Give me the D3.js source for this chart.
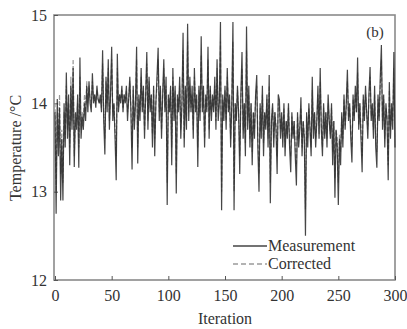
<!DOCTYPE html>
<html>
<head>
<meta charset="utf-8">
<script src="https://cdn.jsdelivr.net/npm/d3@7"></script>
<style>
  body { margin: 0; background: #fff; }
  svg text { font-family: "Liberation Serif", "DejaVu Serif", serif; fill: #333; }
</style>
</head>
<body>
<svg id="chart" width="407" height="329"></svg>
<script>
// values, one per iteration (0..300)
const measurement = [
  13.9, 12.75, 14.05, 13.4, 13.95, 12.9, 13.6, 12.9, 14.0, 13.5,
  14.35, 13.6, 14.1, 13.3, 14.2, 13.7, 14.4, 13.28, 13.9, 13.7,
  14.1, 13.27, 14.52, 13.6, 13.85, 13.7, 14.0, 13.8, 14.2, 13.9,
  14.25, 14.0, 13.9, 14.34, 14.0, 14.1, 13.95, 14.2, 14.05, 14.0,
  14.1, 13.9, 14.6, 13.8, 13.42, 14.3, 13.9, 14.5, 13.7, 14.1,
  14.64, 13.8, 14.0, 13.6, 13.13, 14.56, 13.9, 14.1, 14.0, 14.2,
  13.9, 14.1, 14.0, 14.2, 13.8, 14.05, 14.3, 13.9, 13.25, 14.2,
  13.7, 14.0, 14.64, 13.32, 14.1, 13.8, 14.4, 13.9, 14.2, 13.6,
  14.1, 14.58, 13.7, 14.3, 13.9, 14.1, 13.5, 14.2, 13.4, 14.0,
  14.3, 14.63, 13.8, 14.2, 13.6, 14.1, 14.5, 13.9, 14.3, 12.85,
  14.1, 13.9, 14.2, 13.3, 14.4, 13.8, 14.2, 12.98, 14.1, 13.9,
  14.3, 13.6, 14.0, 14.8, 13.5, 14.2, 13.7, 14.9, 13.8, 14.3,
  13.9, 14.2, 13.6, 14.4, 13.9, 14.1, 13.28, 14.2, 13.8, 14.76,
  13.9, 14.2, 13.5, 14.1, 13.9, 14.64, 13.6, 14.2, 13.8, 14.1,
  13.9, 14.3, 13.7, 14.5, 13.8, 14.0, 14.92, 12.79, 14.1, 13.8,
  14.2, 13.7, 14.4, 13.9, 14.1, 13.5, 14.0, 14.92, 12.79, 14.0,
  13.8, 14.2, 13.9, 13.2, 14.1, 14.58, 13.6, 14.0, 13.4, 14.87,
  13.7, 14.2, 13.5, 14.0, 13.3, 13.9, 13.6, 14.1, 14.32, 13.5,
  13.0, 14.0, 13.6, 14.2, 13.4, 13.9, 13.7, 14.1, 13.5, 14.32,
  12.87, 13.8, 14.0, 13.5, 13.9, 13.7, 13.2, 14.1, 14.04, 13.6,
  13.9, 13.5, 14.0, 13.4, 13.8, 13.6, 14.0, 13.5, 13.22, 13.9,
  13.6, 13.8, 13.4, 13.07, 13.9, 13.5, 13.7, 14.07, 13.4, 13.8,
  13.6, 12.5, 13.9, 13.5, 14.0, 13.7, 13.4, 14.3, 13.6, 13.9,
  13.5, 13.8, 14.2, 13.6, 14.4, 13.7, 13.4, 14.0, 13.6, 13.9,
  13.5, 14.1, 13.8, 13.6, 14.0, 13.3, 13.8, 12.93, 13.7, 13.5,
  12.85, 13.6, 13.3, 13.9, 13.5, 14.1, 13.7, 14.0, 14.38, 13.8,
  14.0, 13.6, 13.33, 14.1, 13.8, 14.2, 13.9, 14.52, 13.7, 14.0,
  13.6, 13.22, 14.1, 13.8, 14.2, 13.9, 13.6, 14.1, 14.41, 13.8,
  14.0, 13.6, 14.2, 13.5, 13.27, 14.1, 13.8, 14.3, 14.66, 13.7,
  14.1, 13.5, 14.0, 13.8, 13.13, 14.24, 13.6, 14.0, 13.7, 14.58,
  13.5
];

const corrected = [
  14.0, 13.0, 13.9, 13.6, 14.1, 13.2, 13.7, 13.1, 13.9, 13.6,
  14.2, 13.7, 14.0, 13.5, 14.3, 13.8, 14.5, 13.4, 13.8, 13.8,
  14.0, 13.5, 14.3, 13.7, 13.9, 13.8, 14.1, 13.9, 14.25, 14.0,
  14.2, 14.05, 14.0, 14.25, 14.05, 14.1, 14.0, 14.15, 14.05, 14.0,
  14.05, 13.95, 14.45, 13.9, 13.6, 14.25, 14.0, 14.4, 13.8, 14.1,
  14.5, 13.9, 14.0, 13.7, 13.4, 14.4, 13.95, 14.1, 14.05, 14.15,
  13.95, 14.1, 14.05, 14.15, 13.9, 14.05, 14.25, 13.95, 13.5, 14.15,
  13.8, 14.0, 14.5, 13.5, 14.05, 13.9, 14.3, 13.95, 14.15, 13.7,
  14.05, 14.45, 13.8, 14.25, 13.95, 14.1, 13.65, 14.15, 13.6, 14.0,
  14.2, 14.5, 13.9, 14.15, 13.7, 14.05, 14.4, 13.95, 14.2, 13.1,
  14.05, 13.95, 14.15, 13.5, 14.3, 13.9, 14.15, 13.2, 14.05, 13.95,
  14.2, 13.7, 14.0, 14.6, 13.6, 14.15, 13.8, 14.7, 13.9, 14.2,
  13.95, 14.1, 13.7, 14.3, 13.95, 14.05, 13.5, 14.15, 13.9, 14.55,
  13.95, 14.15, 13.6, 14.05, 13.95, 14.5, 13.7, 14.15, 13.9, 14.05,
  13.95, 14.2, 13.8, 14.4, 13.9, 14.0, 14.7, 13.0, 14.05, 13.9,
  14.15, 13.8, 14.3, 13.95, 14.05, 13.6, 14.0, 14.7, 13.0, 14.0,
  13.85, 14.15, 13.9, 13.4, 14.05, 14.4, 13.7, 14.0, 13.55, 14.6,
  13.8, 14.1, 13.6, 14.0, 13.45, 13.9, 13.7, 14.05, 14.2, 13.6,
  13.2, 13.95, 13.7, 14.1, 13.55, 13.9, 13.75, 14.05, 13.6, 14.2,
  13.1, 13.8, 13.95, 13.6, 13.9, 13.75, 13.4, 14.0, 13.95, 13.7,
  13.85, 13.6, 13.95, 13.5, 13.8, 13.65, 13.95, 13.6, 13.4, 13.85,
  13.65, 13.8, 13.5, 13.3, 13.85, 13.6, 13.75, 13.95, 13.5, 13.8,
  13.65, 12.8, 13.85, 13.6, 13.95, 13.75, 13.5, 14.15, 13.7, 13.9,
  13.6, 13.8, 14.1, 13.65, 14.25, 13.75, 13.5, 13.95, 13.65, 13.9,
  13.6, 14.0, 13.8, 13.65, 13.95, 13.45, 13.8, 13.15, 13.7, 13.6,
  13.1, 13.65, 13.45, 13.85, 13.6, 14.05, 13.75, 13.95, 14.25, 13.85,
  13.95, 13.7, 13.5, 14.05, 13.85, 14.1, 13.9, 14.35, 13.75, 14.0,
  13.7, 13.4, 14.05, 13.85, 14.1, 13.9, 13.7, 14.05, 14.3, 13.85,
  13.95, 13.7, 14.1, 13.6, 13.45, 14.05, 13.85, 14.2, 14.5, 13.8,
  14.05, 13.6, 13.95, 13.85, 13.3, 14.15, 13.7, 13.95, 13.8, 14.4,
  13.6
];

const xTicks = [0, 50, 100, 150, 200, 250, 300];
const yTicks = [12, 13, 14, 15];
const seriesNames = ["Measurement", "Corrected"];

const plotLeft = 54, plotRight = 395, plotTop = 15, plotBottom = 280;

const svg = d3.select("#chart");

const x = d3.scaleLinear().domain([0, 300]).range([plotLeft + 1, plotRight]);
const y = d3.scaleLinear().domain([12, 15]).range([plotBottom, plotTop]);

// frame
svg.append("rect")
  .attr("x", plotLeft).attr("y", plotTop)
  .attr("width", plotRight - plotLeft).attr("height", plotBottom - plotTop)
  .attr("fill", "none").attr("stroke", "#8a8a8a").attr("stroke-width", 1.6);

// bottom axis, ticks pointing in
const xAxis = svg.append("g")
  .attr("transform", "translate(0," + plotBottom + ")")
  .call(d3.axisBottom(x).tickValues(xTicks).tickFormat(d3.format("d"))
    .tickSizeInner(-4).tickSizeOuter(0).tickPadding(10));
xAxis.select(".domain").remove();
xAxis.selectAll("line").attr("stroke", "#555");
xAxis.selectAll("text").style("font-size", "16px").attr("fill", "#333");

// left axis
const yAxis = svg.append("g")
  .attr("transform", "translate(" + plotLeft + ",0)")
  .call(d3.axisLeft(y).tickValues(yTicks).tickFormat(d3.format("d"))
    .tickSizeInner(-4).tickSizeOuter(0).tickPadding(7));
yAxis.select(".domain").remove();
yAxis.selectAll("line").attr("stroke", "#555");
yAxis.selectAll("text").style("font-size", "16px").attr("fill", "#333");

const line = d3.line()
  .x((d, i) => x(i))
  .y(d => y(d));

svg.append("path")
  .datum(corrected)
  .attr("fill", "none")
  .attr("stroke", "#999")
  .attr("stroke-width", 1.2)
  .attr("stroke-dasharray", "4,2")
  .attr("d", line);

svg.append("path")
  .datum(measurement)
  .attr("fill", "none")
  .attr("stroke", "#262626")
  .attr("stroke-width", 1.2)
  .attr("stroke-opacity", 0.85)
  .attr("d", line);

// legend
const legend = svg.append("g");
legend.append("line")
  .attr("x1", 233).attr("x2", 267).attr("y1", 246).attr("y2", 246)
  .attr("stroke", "#444").attr("stroke-width", 1.6);
legend.append("line")
  .attr("x1", 233).attr("x2", 267).attr("y1", 264).attr("y2", 264)
  .attr("stroke", "#9a9a9a").attr("stroke-width", 1.3).attr("stroke-dasharray", "5,3");
legend.append("text").attr("x", 268).attr("y", 251)
  .style("font-size", "16px").text(seriesNames[0]);
legend.append("text").attr("x", 268).attr("y", 269)
  .style("font-size", "16px").text(seriesNames[1]);

// panel label
svg.append("text")
  .attr("x", 375).attr("y", 37)
  .attr("text-anchor", "middle")
  .style("font-size", "15px")
  .text("(b)");

// axis titles
svg.append("text")
  .attr("x", 225).attr("y", 324)
  .attr("text-anchor", "middle")
  .style("font-size", "16px")
  .text("Iteration");

svg.append("text")
  .attr("transform", "translate(21,148) rotate(-90)")
  .attr("text-anchor", "middle")
  .style("font-size", "16px")
  .text("Temperature /°C");
</script>
</body>
</html>
